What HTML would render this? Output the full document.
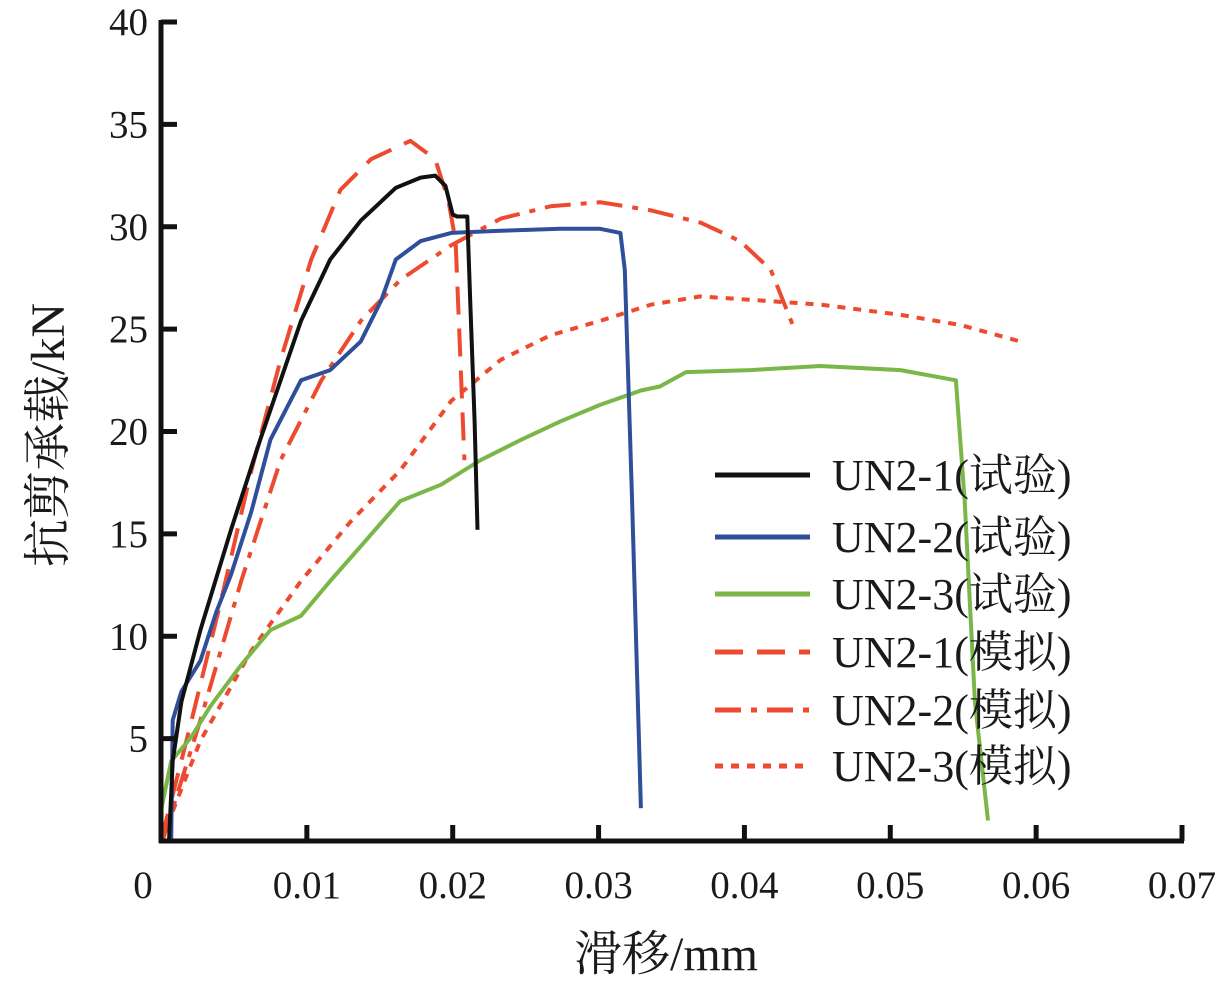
<!DOCTYPE html>
<html><head><meta charset="utf-8"><style>
html,body{margin:0;padding:0;background:#fff;}
svg text{font-family:"Liberation Serif","Noto Serif CJK SC",serif;fill:#1a1a1a;}
</style></head><body>
<svg id="chart" width="1227" height="986" viewBox="0 0 1227 986" xmlns="http://www.w3.org/2000/svg">
<g id="plot"></g>
</svg>
<script>
const xTicks=[0,0.01,0.02,0.03,0.04,0.05,0.06,0.07];
const xTickLabels=["0","0.01","0.02","0.03","0.04","0.05","0.06","0.07"];
const yTicks=[5,10,15,20,25,30,35,40];
const yTickLabels=["5","10","15","20","25","30","35","40"];
const seriesNames=["UN2-1(试验)","UN2-2(试验)","UN2-3(试验)","UN2-1(模拟)","UN2-2(模拟)","UN2-3(模拟)"];
const s1x=[0.00055,0.0008,0.0014,0.0027,0.0048,0.0068,0.0082,0.0096,0.0116,0.0137,0.0161,0.0178,0.0188,0.0195,0.0200,0.0203,0.0210,0.0212,0.0215,0.0217];
const s1y=[0,3.9,6.8,10.3,15.2,19.6,22.5,25.4,28.4,30.3,31.9,32.4,32.5,32.0,30.6,30.5,30.5,26.4,20.5,15.2];
const s2x=[0.0007,0.0008,0.0014,0.0027,0.0038,0.0048,0.0062,0.0075,0.0096,0.0116,0.0137,0.0151,0.0161,0.0178,0.0199,0.0233,0.0274,0.0301,0.0315,0.0318,0.0323,0.0329];
const s2y=[0,5.9,7.3,8.8,11.2,13.0,16.1,19.6,22.5,23.0,24.4,26.4,28.4,29.3,29.7,29.8,29.9,29.9,29.7,27.9,16.6,1.6];
const s3x=[0,0.0007,0.0021,0.0034,0.0055,0.0075,0.0096,0.0116,0.0137,0.0164,0.0192,0.0219,0.0247,0.0274,0.0301,0.0329,0.0342,0.0360,0.0404,0.0452,0.0507,0.0545,0.0551,0.0558,0.0567];
const s3y=[1.5,3.9,5.1,6.6,8.6,10.3,11.0,12.7,14.4,16.6,17.4,18.6,19.6,20.5,21.3,22.0,22.2,22.9,23.0,23.2,23.0,22.5,16.6,6.8,1.0];
const s4x=[0,0.0021,0.0041,0.0062,0.0082,0.0103,0.0123,0.0144,0.0171,0.0188,0.0197,0.0202,0.0205,0.0208];
const s4y=[0,5.9,11.7,18.1,23.5,28.4,31.8,33.3,34.2,33.3,31.3,29.3,24.0,18.6];
const s5x=[0.0001,0.0027,0.0055,0.0082,0.0110,0.0137,0.0164,0.0199,0.0233,0.0267,0.0301,0.0336,0.0370,0.0397,0.0418,0.0432,0.0435];
const s5y=[0,5.9,12.7,18.6,22.5,25.4,27.4,29.1,30.4,31.0,31.2,30.8,30.2,29.3,27.9,25.4,24.9];
const s6x=[0,0.0027,0.0062,0.0096,0.0130,0.0164,0.0199,0.0233,0.0267,0.0301,0.0336,0.0370,0.0411,0.0452,0.0507,0.0548,0.0589];
const s6y=[0,4.9,9.3,12.7,15.6,18.1,21.5,23.5,24.7,25.4,26.2,26.6,26.4,26.2,25.7,25.2,24.4];

const NS="http://www.w3.org/2000/svg";
const X0=161,X1=1182,Y0=841,Y1=22;
function sx(v){return X0+v/0.07*(X1-X0);}
function sy(v){return Y0-v/40*(Y0-Y1);}
const g=document.getElementById('plot');
function mk(t,a){const e=document.createElementNS(NS,t);for(const k in a)e.setAttribute(k,a[k]);g.appendChild(e);return e;}

const styles=[
 {c:"#111111",d:"",n:"series-un2-1-test"},
 {c:"#2f4f9a",d:"",n:"series-un2-2-test"},
 {c:"#7ab648",d:"",n:"series-un2-3-test"},
 {c:"#ee4a2f",d:"28 14",n:"series-un2-1-sim"},
 {c:"#ee4a2f",d:"26 10 6 10",n:"series-un2-2-sim"},
 {c:"#ee4a2f",d:"8 8",n:"series-un2-3-sim"}];
const allX=[s1x,s2x,s3x,s4x,s5x,s6x],allY=[s1y,s2y,s3y,s4y,s5y,s6y];
const order=[3,4,5,2,1,0];
order.forEach(i=>{
 const pts=allX[i].map((v,j)=>sx(v).toFixed(1)+","+sy(allY[i][j]).toFixed(1)).join(" ");
 const p=mk('polyline',{points:pts,fill:"none",stroke:styles[i].c,"stroke-width":4,"stroke-dasharray":styles[i].d,"stroke-linejoin":"round"});
 
 
});

let a=mk('line',{x1:X0,y1:Y1-2,x2:X0,y2:Y0+2,stroke:"#111","stroke-width":5});


a=mk('line',{x1:X0-2,y1:Y0,x2:X1+2,y2:Y0,stroke:"#111","stroke-width":5});



xTicks.forEach((v,i)=>{
 if(i>0){const t=mk('line',{x1:sx(v),y1:Y0,x2:sx(v),y2:Y0-16,stroke:"#111","stroke-width":5});
 
 }
 const l=mk('text',{x:i===0?sx(v)-18:sx(v),y:898,"font-size":39,"text-anchor":"middle"});
 l.textContent=xTickLabels[i];
 
 
});
yTicks.forEach((v,i)=>{
 const t=mk('line',{x1:X0,y1:sy(v),x2:X0+16,y2:sy(v),stroke:"#111","stroke-width":5});
 
 
 const l=mk('text',{x:148,y:sy(v)+13,"font-size":39,"text-anchor":"end"});
 l.textContent=yTickLabels[i];
 
 
});
let t=mk('text',{x:666,y:970,"font-size":48,"text-anchor":"middle"});
t.textContent="滑移/mm";


t=mk('text',{x:0,y:0,"font-size":48,"text-anchor":"middle",transform:"translate(64,435) rotate(-90)"});
t.textContent="抗剪承载/kN";



const legY=[475,537,594,652,710,766];
seriesNames.forEach((n,i)=>{
 const l=mk('line',{x1:715,y1:legY[i],x2:810,y2:legY[i],stroke:styles[i].c,"stroke-width":5,"stroke-dasharray":styles[i].d});
 
 
 const tx=mk('text',{x:832,y:legY[i]+15,"font-size":44});
 tx.textContent=n;
 
 
});
</script>
</body></html>
